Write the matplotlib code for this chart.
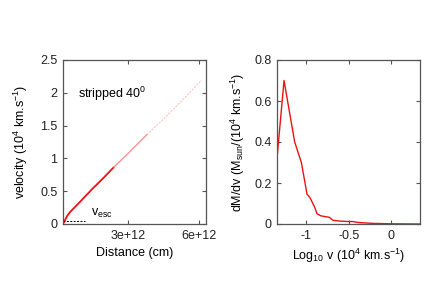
import numpy as np
import matplotlib
matplotlib.use("Agg")
import matplotlib.pyplot as plt

plt.rcParams['font.family'] = ['Liberation Sans', 'DejaVu Sans']
plt.rcParams['font.size'] = 9
plt.rcParams['mathtext.fontset'] = 'custom'
plt.rcParams['mathtext.rm'] = 'Liberation Sans'
plt.rcParams['mathtext.it'] = 'Liberation Sans'

# left panel: velocity vs distance of ejecta particles
dist = [0.28e12, 0.45e12, 0.57e12, 1.0e12, 1.5e12, 2.0e12, 2.4e12,
        3.0e12, 3.8e12, 4.5e12, 5.3e12, 6.1e12]
vel = [0.0, 0.12, 0.18, 0.34, 0.53, 0.71, 0.86,
       1.07, 1.36, 1.60, 1.89, 2.19]
vesc_x = [0.28e12, 1.2e12]
vesc_y = [0.04, 0.04]

# right panel: mass distribution over log velocity
logv = [-1.347, -1.264, -1.197, -1.138, -1.059, -0.992, -0.96, -0.941,
        -0.90, -0.874, -0.83, -0.764, -0.73, -0.685, -0.6, -0.5, -0.45,
        -0.4, -0.3, -0.212, -0.1, 0.0, 0.34]
dmdv = [0.32, 0.70, 0.54, 0.40, 0.30, 0.145, 0.13, 0.115,
        0.08, 0.05, 0.04, 0.035, 0.033, 0.018, 0.014, 0.012, 0.012,
        0.008, 0.005, 0.003, 0.002, 0.001, 0.0]

W, H = 432, 303
fig = plt.figure(figsize=(W / 100, H / 100), dpi=100)
ax1 = fig.add_axes([63 / W, (H - 224) / H, 143 / W, 164 / H])
ax2 = fig.add_axes([277 / W, (H - 224) / H, 143 / W, 164 / H])

frame_col = '#555555'
for ax in (ax1, ax2):
    for s in ax.spines.values():
        s.set_color(frame_col)
        s.set_linewidth(0.9)
    ax.tick_params(direction='in', top=True, right=True, length=3,
                   width=0.8, color=frame_col, labelcolor='#222222', pad=4)

# fading particle trail
ax1.plot(dist[:7], vel[:7], color='#ee1111', lw=1.3)
ax1.plot(dist[6:9], vel[6:9], color='#f06666', lw=1.0, alpha=0.7)
ax1.plot(dist[8:], vel[8:], color='#f5a0a0', lw=0.8, alpha=0.6, ls=(0, (2, 1)))
ax1.plot(vesc_x, vesc_y, color='black', lw=0.7, ls=(0, (2, 1.5)))
ax1.text(1.45e12, 0.12, r'v$_{\rm esc}$', fontsize=9)
ax1.text(0.9e12, 1.98, r'stripped 40$^0$', fontsize=9, va='center')
ax1.set_xlim(0.28e12, 6.29e12)
ax1.set_ylim(0, 2.5)
ax1.set_xticks([3e12, 6e12])
ax1.set_xticklabels(['3e+12', '6e+12'])
ax1.set_yticks([0, 0.5, 1, 1.5, 2, 2.5])
ax1.set_yticklabels(['0', '0.5', '1', '1.5', '2', '2.5'])
ax1.set_xlabel('Distance (cm)', labelpad=4)
ax1.set_ylabel(r'velocity (10$^4$ km.s$^{-1}$)', labelpad=7)

ax2.plot(logv, dmdv, color='#ee1111', lw=1.0)
ax2.set_xlim(-1.347, 0.343)
ax2.set_ylim(0, 0.8)
ax2.set_xticks([-1, -0.5, 0])
ax2.set_xticklabels(['-1', '-0.5', '0'])
ax2.set_yticks([0, 0.2, 0.4, 0.6, 0.8])
ax2.set_yticklabels(['0', '0.2', '0.4', '0.6', '0.8'])
ax2.set_xlabel(r'Log$_{10}$ v (10$^4$ km.s$^{-1}$)', labelpad=4)
ax2.set_ylabel(r'dM/dv (M$_{\rm sun}$/(10$^4$ km.s$^{-1}$)', labelpad=5)

fig.savefig('out.png', dpi=100)
